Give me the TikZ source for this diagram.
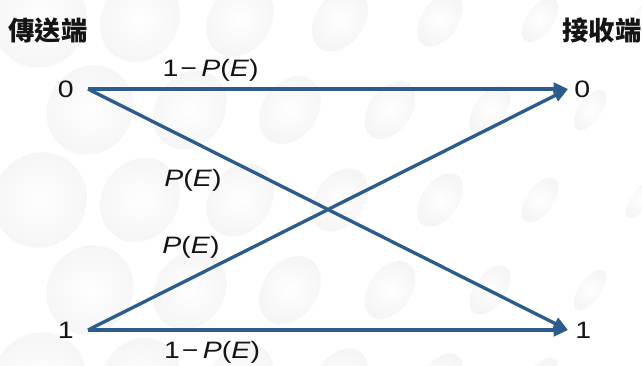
\documentclass[tikz,border=0pt]{standalone}
\usepackage{graphicx}
\usepackage{fontspec}
\setmainfont{Liberation Sans}
\newfontfamily\cjk{Noto Sans CJK TC}
\usepackage{tikz}
\usetikzlibrary{arrows.meta,positioning}
\definecolor{chan}{HTML}{2B5C8C}
\definecolor{ink}{HTML}{141414}
\newcommand{\widetxt}[1]{\scalebox{1.2}[1]{#1}}
\newcommand{\pe}{\textit{P}(\textit{E})}

\begin{document}
\begin{tikzpicture}[
 bub/.style={inner color=white,outer color=gray!14,draw=none,opacity=.5},
 a/.style={-{Triangle[length=2.9mm,width=2.5mm]},draw=chan,line width=1.9pt},
 d/.style={font=\fontsize{13.5}{16}\selectfont,text=ink,inner sep=0pt},
 p/.style={font=\fontsize{13.5}{16}\selectfont,text=ink,inner sep=1pt},
 h/.style={font=\cjk\bfseries\fontsize{15}{18}\selectfont,text=ink,inner sep=0pt}
]
\useasboundingbox (0,0) rectangle (12.84,-7.3);
\fill[white] (0,0) rectangle (12.84,-7.3);
% background bubbles
\begin{scope}
\clip (0,0) rectangle (12.84,-7.3);
\foreach \j in {0,...,4}{
 \foreach \i in {0,...,6}{
  \pgfmathsetmacro\bx{0.8+2*\i+mod(\j,2)}
  \pgfmathsetmacro\by{-0.4-1.8*\j}
  \pgfmathsetmacro\br{1.0-0.045*\bx}
  \pgfmathsetmacro\bs{1-0.045*\bx}
  \shade[bub,rotate around={-35:(\bx,\by)}] (\bx,\by) ellipse ({\br*\bs} and \br);
 }
}
\end{scope}
% ends
\node[h] (tx) at (0.96,-0.6) {傳送端};
\node[h] (rx) at (12.04,-0.6) {接收端};
\coordinate (s0) at (1.76,-1.78);
\coordinate (s1) at (1.76,-6.6);
\coordinate (r0) at (11.36,-1.78);
\coordinate (r1) at (11.36,-6.6);
\node[d,left=0.28 of s0] (in0) {\widetxt{0}};
\node[d,left=0.28 of s1] (in1) {\widetxt{1}};
\node[d,right=0.12 of r0] (out0) {\widetxt{0}};
\node[d,right=0.14 of r1] (out1) {\widetxt{1}};
% channel
\draw[a] (s0)--(r0); \draw[a] (s1)--(r1);
\draw[a] (s0)--(r1); \draw[a] (s1)--(r0);
\node[p] (ok0) at (4.21,-1.4) {\widetxt{1\kern1pt−\kern2pt\pe}};
\node[p] (err0) at (3.86,-3.6) {\widetxt{\pe}};
\node[p] (err1) at (3.82,-4.94) {\widetxt{\pe}};
\node[p] (ok1) at (4.24,-7.04) {\widetxt{1\kern1pt−\kern2pt\pe}};
\end{tikzpicture}
\end{document}
